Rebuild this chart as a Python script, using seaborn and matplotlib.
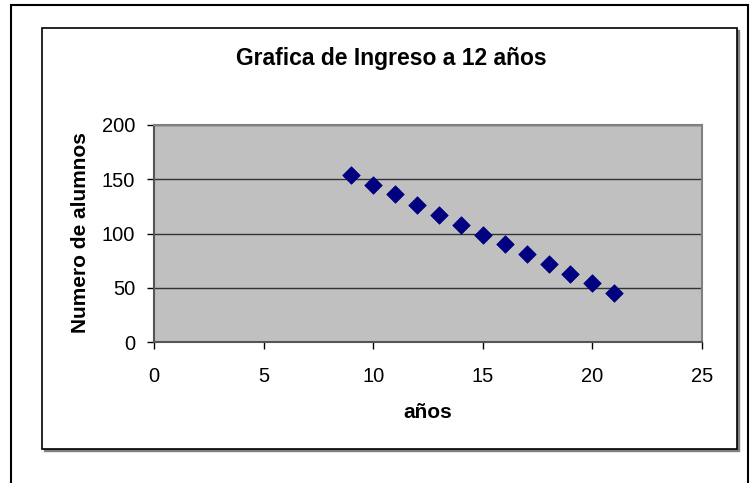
import matplotlib
matplotlib.use("Agg")
import matplotlib.pyplot as plt
import seaborn as sns
import pandas as pd
from matplotlib.patches import Rectangle

years = [9, 10, 11, 12, 13, 14, 15, 16, 17, 18, 19, 20, 21]
students = [154, 145, 136, 126, 117, 108, 99, 90, 81, 72, 63, 54, 45]
x_ticks = [0, 5, 10, 15, 20, 25]
y_ticks = [0, 50, 100, 150, 200]
title = "Grafica de Ingreso a 12 años"
xlabel = "años"
ylabel = "Numero de alumnos"

df = pd.DataFrame({"x": years, "y": students})

sns.set_style("white")
plt.rcParams["font.family"] = ["Liberation Sans", "DejaVu Sans"]
plt.rcParams["text.color"] = "black"

W, H = 750, 483
fig = plt.figure(figsize=(W / 100, H / 100), dpi=100)

def fx(px):
    return px / W

def fy(py):
    return 1 - py / H

# outer border
fig.patches.append(Rectangle((fx(11), fy(490)), fx(748) - fx(11), fy(5) - fy(490),
                             transform=fig.transFigure, fill=False, edgecolor="black",
                             linewidth=1.5, zorder=-3))
# shadow of chart area
fig.patches.append(Rectangle((fx(44), fy(451)), fx(739) - fx(44), fy(30) - fy(451),
                             transform=fig.transFigure, fill=True, facecolor="#808080",
                             edgecolor="#808080", linewidth=1, zorder=-2))
# chart area border
fig.patches.append(Rectangle((fx(42), fy(449)), fx(737) - fx(42), fy(28) - fy(449),
                             transform=fig.transFigure, facecolor="white", edgecolor="black",
                             linewidth=1.2, zorder=-1))

ax = fig.add_axes([fx(154), fy(342), fx(702) - fx(154), fy(125) - fy(342)])
ax.set_zorder(2)
ax.set_facecolor("#C0C0C0")

sns.scatterplot(data=df, x="x", y="y", marker="D", s=80, color="#000080",
                edgecolor="#000080", linewidth=0.5, ax=ax, zorder=3)

ax.set_xlim(0, 25)
ax.set_ylim(0, 200)
ax.set_xticks(x_ticks)
ax.set_yticks(y_ticks)
ax.set_xticklabels([str(v) for v in x_ticks], fontsize=14.5)
ax.set_yticklabels([str(v) for v in y_ticks], fontsize=14.5)
ax.yaxis.grid(True, color="#333333", linewidth=1)
ax.xaxis.grid(False)
ax.set_axisbelow(True)

for side in ["left", "bottom"]:
    ax.spines[side].set_color("#555555")
    ax.spines[side].set_linewidth(1.5)
for side in ["top", "right"]:
    ax.spines[side].set_color("#808080")
    ax.spines[side].set_linewidth(1.5)

ax.tick_params(axis="both", which="major", direction="out", length=5, width=1,
               color="black", labelcolor="black", left=True, bottom=True)
ax.tick_params(axis="x", pad=13)
ax.tick_params(axis="y", pad=8.5)

ax.set_xlabel("")
ax.set_ylabel("")
fig.text(fx(428), fy(412), xlabel, ha="center", va="center", fontsize=15,
         fontweight="bold", color="black")
fig.text(fx(80), fy(233), ylabel, ha="center", va="center", rotation=90,
         fontsize=15, fontweight="bold", color="black")
fig.text(fx(391), fy(58), title, ha="center", va="center", fontsize=16.5,
         fontweight="bold", color="black")

fig.savefig("out.png", dpi=100)
